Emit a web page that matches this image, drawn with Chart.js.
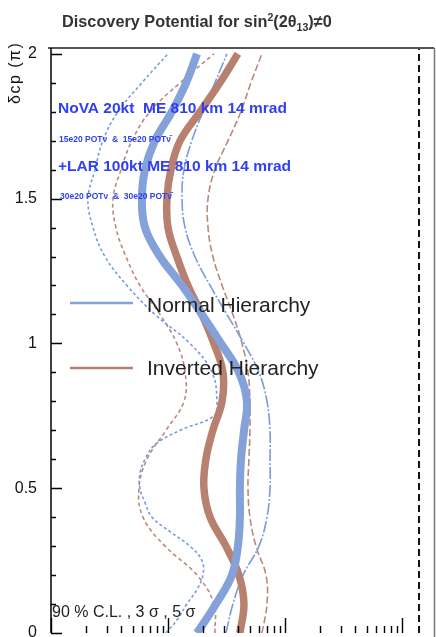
<!DOCTYPE html>
<html>
<head>
<meta charset="utf-8">
<script src="https://cdn.jsdelivr.net/npm/chart.js@4/dist/chart.umd.min.js"></script>
<style>
  html, body { margin: 0; padding: 0; background: #fff; }
  canvas { display: block; }
</style>
</head>
<body>
<canvas id="chart" width="436" height="637"></canvas>
<script>
// delta_CP in units of pi, shared by most curves
const deltaCP = [0, 0.1, 0.2, 0.3, 0.4, 0.5, 0.6, 0.7, 0.8, 0.9, 1.0,
                 1.1, 1.2, 1.3, 1.4, 1.5, 1.6, 1.7, 1.8, 1.9, 2.0];

// normal hierarchy, 90% C.L. (finer grid around the kink)
const nh90Delta = [0, 0.05, 0.1, 0.15, 0.2, 0.25, 0.3, 0.35, 0.4, 0.45, 0.5, 0.55, 0.6, 0.65,
                   0.7, 0.75, 0.8, 0.9, 1.0, 1.1, 1.2, 1.3, 1.4, 1.5, 1.6, 1.7, 1.8, 1.9, 2.0];
const nh90 = [9.61e-4, 1.22e-3, 1.45e-3, 1.77e-3, 1.99e-3, 1.95e-3, 1.54e-3, 1.04e-3, 7.30e-4,
              6.36e-4, 5.76e-4, 5.76e-4, 6.36e-4, 7.74e-4, 1.27e-3, 2.47e-3, 2.62e-3, 2.38e-3,
              1.54e-3, 7.74e-4, 4.46e-4, 2.89e-4, 2.29e-4, 2.07e-4, 2.38e-4, 2.78e-4, 3.74e-4,
              5.99e-4, 1.00e-3];

// sin^2(2 theta_13) reach per hierarchy and confidence level
const nh3s = [1.77e-3, 2.57e-3, 3.52e-3, 3.96e-3, 4.12e-3, 4.12e-3, 4.21e-3, 4.47e-3, 4.73e-3,
              4.04e-3, 2.84e-3, 1.95e-3, 1.32e-3, 8.54e-4, 6.36e-4, 5.99e-4, 6.36e-4, 7.74e-4,
              1.08e-3, 1.43e-3, 1.77e-3];
const nh5s = [3.13e-3, 3.59e-3, 4.38e-3, 5.99e-3, 7.02e-3, 7.45e-3, 7.45e-3, 7.45e-3, 7.02e-3,
              5.99e-3, 4.46e-3, 3.19e-3, 2.29e-3, 1.70e-3, 1.40e-3, 1.32e-3, 1.37e-3, 1.60e-3,
              1.99e-3, 2.52e-3, 3.19e-3];
const ih90 = [2.52e-3, 2.47e-3, 1.77e-3, 9.43e-4, 6.11e-4, 5.65e-4, 6.61e-4, 9.61e-4, 1.37e-3,
              1.40e-3, 1.19e-3, 8.54e-4, 5.76e-4, 4.37e-4, 3.59e-4, 3.39e-4, 3.97e-4, 4.92e-4,
              7.02e-4, 1.27e-3, 2.47e-3];
const ih3s = [4.12e-3, 4.46e-3, 4.04e-3, 3.13e-3, 2.29e-3, 2.03e-3, 2.11e-3, 2.42e-3, 2.90e-3,
              2.95e-3, 2.47e-3, 1.95e-3, 1.48e-3, 1.19e-3, 1.00e-3, 9.80e-4, 1.06e-3, 1.27e-3,
              1.88e-3, 2.78e-3, 3.96e-3];
const ih5s = [6.36e-3, 7.02e-3, 6.88e-3, 5.65e-3, 5.02e-3, 4.83e-3, 4.92e-3, 5.02e-3, 5.02e-3,
              4.83e-3, 4.29e-3, 3.59e-3, 2.90e-3, 2.42e-3, 2.20e-3, 2.20e-3, 2.52e-3, 3.26e-3,
              4.20e-3, 5.12e-3, 6.36e-3];

// reactor limit drawn as the dashed vertical line
const reactorLimit = 0.14;

const yTicks = [0, 0.5, 1, 1.5, 2];
const xRange = [1e-4, 0.188];
const yRange = [0, 2.02];

const BLUE = '#84a1d9';
const BLUE_THIN = '#7a9ae0';
const BROWN = '#b7806f';
const BROWN_THIN = '#b98a7c';
const FONT = '"Liberation Sans", Arial, Helvetica, sans-serif';

const toPoints = (xs, ys) => xs.map((v, i) => ({ x: v, y: ys[i] }));

function curve(data, color, width, dash) {
    return {
        data,
        borderColor: color,
        borderWidth: width,
        borderDash: dash || [],
        showLine: true,
        pointRadius: 0,
        tension: 0.4,
        fill: false,
    };
}

// draw a string made of pieces with their own size / vertical shift
function drawRich(ctx, x, y, parts, size, weight) {
    parts.forEach(([text, scale, dy]) => {
        ctx.font = `${weight} ${size * scale}px ${FONT}`;
        ctx.fillText(text, x, y + dy);
        x += ctx.measureText(text).width;
    });
}

// frame, inward ticks and all the annotation text
const decorations = {
    id: 'decorations',
    afterDatasetsDraw(chart) {
        const { ctx, chartArea: a, scales: { x, y } } = chart;
        ctx.save();

        // frame
        ctx.strokeStyle = '#555';
        ctx.lineWidth = 2;
        ctx.beginPath();
        ctx.moveTo(48, a.top);
        ctx.lineTo(a.right, a.top);
        ctx.stroke();
        ctx.strokeStyle = '#777';
        ctx.lineWidth = 1.5;
        ctx.beginPath();
        ctx.moveTo(a.right + 0.5, a.top);
        ctx.lineTo(a.right + 0.5, chart.height);
        ctx.stroke();
        ctx.strokeStyle = '#000';
        ctx.lineWidth = 1.5;
        ctx.beginPath();
        ctx.moveTo(a.left, a.top);
        ctx.lineTo(a.left, a.bottom);
        ctx.stroke();

        // y ticks every 0.1, long ones every 0.5
        ctx.lineWidth = 1.4;
        ctx.beginPath();
        for (let i = 0; i <= 20; i++) {
            const py = Math.round(y.getPixelForValue(i / 10)) + 0.5;
            const len = i % 5 === 0 ? 11 : 5;
            ctx.moveTo(a.left, py);
            ctx.lineTo(a.left + len, py);
        }
        ctx.stroke();

        // log x ticks on the bottom edge
        ctx.beginPath();
        for (let e = -4; e <= -1; e++) {
            for (let m = 1; m <= 9; m++) {
                const v = m * Math.pow(10, e);
                if (v > x.max) break;
                const px = Math.round(x.getPixelForValue(v)) + 0.5;
                const len = m === 1 ? 15 : 7;
                ctx.moveTo(px, a.bottom);
                ctx.lineTo(px, a.bottom - len);
            }
        }
        ctx.stroke();

        // title
        ctx.fillStyle = '#333';
        ctx.textAlign = 'left';
        ctx.textBaseline = 'alphabetic';
        drawRich(ctx, 62, 27, [
            ['Discovery Potential for sin', 1, 0],
            ['2', 0.65, -6],
            ['(2θ', 1, 0],
            ['13', 0.65, 4],
            [')≠0', 1, 0],
        ], 16.3, 'bold');

        // y axis title
        ctx.save();
        ctx.translate(20, 104);
        ctx.rotate(-Math.PI / 2);
        ctx.font = `16px ${FONT}`;
        ctx.fillStyle = '#111';
        ctx.letterSpacing = '1.5px';
        ctx.fillText('δcp (π)', 0, 0);
        ctx.restore();

        // experiment labels
        ctx.fillStyle = '#2f3ff2';
        ctx.font = `bold 15.5px ${FONT}`;
        ctx.fillText('NoVA 20kt  ME 810 km 14 mrad', 58, 113);
        ctx.fillText('+LAR 100kt ME 810 km 14 mrad', 58, 171);
        ctx.font = `bold 8.5px ${FONT}`;
        ctx.fillText('15e20 POTν  &  15e20 POTν̄', 59, 142);
        ctx.fillText('30e20 POTν  &  30e20 POTν̄', 60, 199);

        // legend
        ctx.lineWidth = 2.5;
        ctx.strokeStyle = BLUE;
        ctx.beginPath();
        ctx.moveTo(70, 303);
        ctx.lineTo(133, 303);
        ctx.stroke();
        ctx.strokeStyle = BROWN;
        ctx.beginPath();
        ctx.moveTo(70, 368);
        ctx.lineTo(133, 368);
        ctx.stroke();
        ctx.fillStyle = '#222';
        ctx.font = `21px ${FONT}`;
        ctx.fillText('Normal Hierarchy', 147, 312);
        ctx.fillText('Inverted Hierarchy', 147, 375);

        ctx.font = `16px ${FONT}`;
        ctx.fillText('90 % C.L. , 3 σ , 5 σ', 52, 617);

        ctx.restore();
    },
};

const datasets = [
    curve(toPoints(nh3s, deltaCP), BLUE, 8),
    curve(toPoints(ih3s, deltaCP), BROWN, 7.5),
    curve(toPoints(nh90, nh90Delta), BLUE_THIN, 1.6, [3, 2.5]),
    curve(toPoints(ih90, deltaCP), BROWN_THIN, 1.6, [4, 3]),
    curve(toPoints(nh5s, deltaCP), BLUE_THIN, 1.6, [12, 2, 2, 2]),
    curve(toPoints(ih5s, deltaCP), BROWN_THIN, 1.6, [7, 3]),
    {
        data: [{ x: reactorLimit, y: yRange[0] }, { x: reactorLimit, y: yRange[1] }],
        borderColor: '#111',
        borderWidth: 2,
        borderDash: [7, 4],
        showLine: true,
        pointRadius: 0,
        tension: 0,
    },
];

new Chart(document.getElementById('chart'), {
    type: 'scatter',
    data: { datasets },
    options: {
        responsive: false,
        devicePixelRatio: 1,
        animation: false,
        layout: { padding: { top: 48, right: 2, bottom: 4, left: 0 } },
        plugins: { legend: { display: false }, tooltip: { enabled: false } },
        scales: {
            x: {
                type: 'logarithmic',
                min: xRange[0],
                max: xRange[1],
                display: false,
            },
            y: {
                type: 'linear',
                min: yRange[0],
                max: yRange[1],
                grid: { display: false },
                border: { display: false },
                afterBuildTicks: (scale) => {
                    scale.ticks = yTicks.map((v) => ({ value: v }));
                },
                afterFit: (scale) => {
                    // let the "0" label run off the bottom edge
                    scale.width = 51;
                    scale.paddingTop = 0;
                    scale.paddingBottom = 0;
                },
                ticks: {
                    padding: 6,
                    color: '#111',
                    font: { family: FONT, size: 16 },
                    callback: (v) => String(v),
                },
            },
        },
    },
    plugins: [decorations],
});
</script>
</body>
</html>
